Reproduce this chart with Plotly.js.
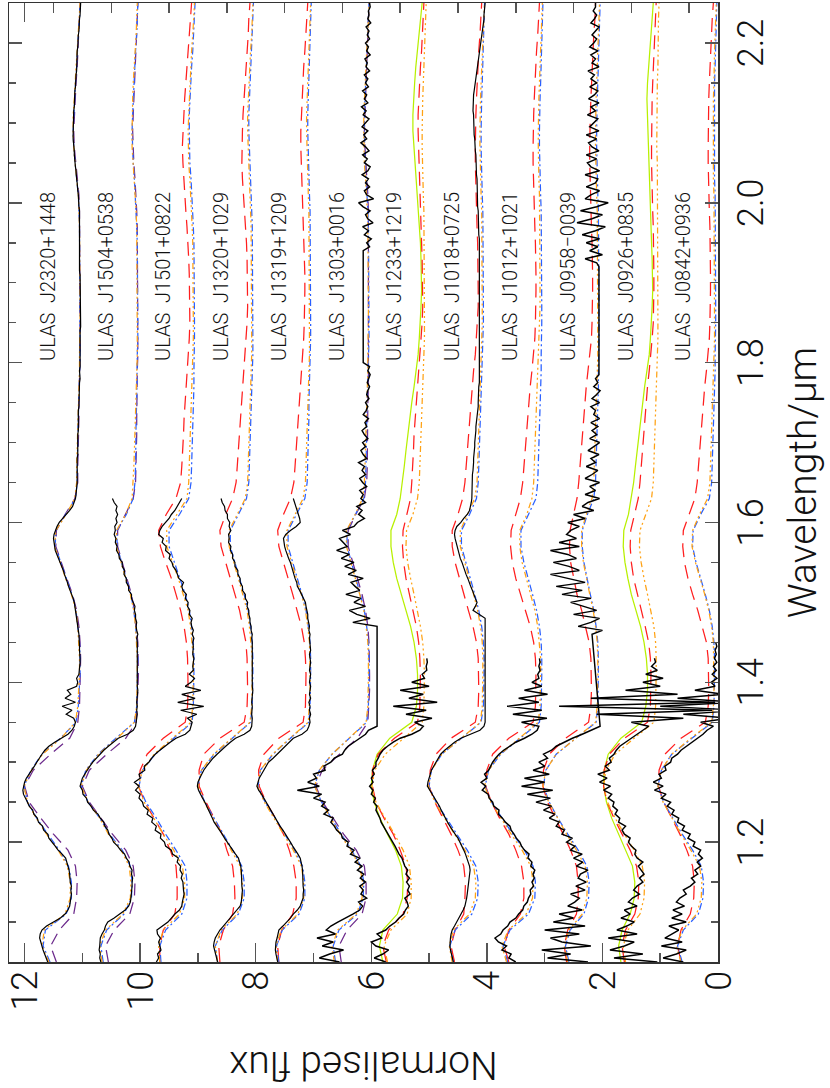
<!DOCTYPE html>
<html>
<head>
<meta charset="utf-8">
<script src="https://cdn.plot.ly/plotly-3.0.1.min.js"></script>
<style>
  html, body { margin: 0; padding: 0; background: #fff; overflow: hidden; width: 830px; height: 1088px; }
  /* the figure is laid out in landscape and turned a quarter turn anticlockwise */
  #chart { position: absolute; left: 0; top: 0; width: 1088px; height: 830px;
           transform-origin: 0 0; transform: translateY(1088px) rotate(-90deg); }
</style>
</head>
<body>
<div id="chart"></div>
<script>
// ---- wavelength grids (micron) ----
const WL_MODEL = [
  1.05,1.07,1.09,1.11,1.13,1.15,1.17,1.19,1.21,1.23,
  1.25,1.27,1.29,1.31,1.33,1.35,1.37,1.39,1.41,1.43,
  1.45,1.47,1.49,1.51,1.53,1.55,1.57,1.59,1.61,1.63,
  1.65,1.67,1.69,1.71,1.73,1.75,1.77,1.79,1.81,1.83,
  1.85,1.87,1.89,1.91,1.93,1.95,1.97,1.99,2.01,2.03,
  2.05,2.07,2.09,2.11,2.13,2.15,2.17,2.19,2.21,2.23,
  2.25];

const WL_OBS = [
  1.050,1.055,1.060,1.065,1.070,1.075,1.080,1.085,1.090,1.095,1.100,1.105,1.110,1.115,1.120,1.125,1.130,1.135,1.140,1.145,
  1.150,1.155,1.160,1.165,1.170,1.175,1.180,1.185,1.190,1.195,1.200,1.205,1.210,1.215,1.220,1.225,1.230,1.235,1.240,1.245,
  1.250,1.255,1.260,1.265,1.270,1.275,1.280,1.285,1.290,1.295,1.300,1.305,1.310,1.315,1.320,1.325,1.330,1.335,1.340,1.345,
  1.350,1.355,1.360,1.365,1.370,1.375,1.380,1.385,1.390,1.395,1.400,1.405,1.410,1.415,1.420,1.425,1.430,1.435,1.440,1.445,
  1.450,1.455,1.460,1.465,1.470,1.475,1.480,1.485,1.490,1.495,1.500,1.505,1.510,1.515,1.520,1.525,1.530,1.535,1.540,1.545,
  1.550,1.555,1.560,1.565,1.570,1.575,1.580,1.585,1.590,1.595,1.600,1.605,1.610,1.615,1.620,1.625,1.630,1.635,1.640,1.645,
  1.650,1.655,1.660,1.665,1.670,1.675,1.680,1.685,1.690,1.695,1.700,1.705,1.710,1.715,1.720,1.725,1.730,1.735,1.740,1.745,
  1.750,1.755,1.760,1.765,1.770,1.775,1.780,1.785,1.790,1.795,1.800,1.805,1.810,1.815,1.820,1.825,1.830,1.835,1.840,1.845,
  1.850,1.855,1.860,1.865,1.870,1.875,1.880,1.885,1.890,1.895,1.900,1.905,1.910,1.915,1.920,1.925,1.930,1.935,1.940,1.945,
  1.950,1.955,1.960,1.965,1.970,1.975,1.980,1.985,1.990,1.995,2.000,2.005,2.010,2.015,2.020,2.025,2.030,2.035,2.040,2.045,
  2.050,2.055,2.060,2.065,2.070,2.075,2.080,2.085,2.090,2.095,2.100,2.105,2.110,2.115,2.120,2.125,2.130,2.135,2.140,2.145,
  2.150,2.155,2.160,2.165,2.170,2.175,2.180,2.185,2.190,2.195,2.200,2.205,2.210,2.215,2.220,2.225,2.230,2.235,2.240,2.245,
  2.250];

// ---- object names and vertical offsets ----
const NAMES = ['ULAS\u00a0 J0842+0936','ULAS\u00a0 J0926+0835','ULAS\u00a0 J0958\u22120039','ULAS\u00a0 J1012+1021',
               'ULAS\u00a0 J1018+0725','ULAS\u00a0 J1233+1219','ULAS\u00a0 J1303+0016','ULAS\u00a0 J1319+1209',
               'ULAS\u00a0 J1320+1029','ULAS\u00a0 J1501+0822','ULAS\u00a0 J1504+0538','ULAS\u00a0 J2320+1448'];
const OFFSETS = [0,1,2,3,4,5,6,7,8,9,10,11];
// stroke width of each observed spectrum (the low signal-to-noise ones are drawn heavier)
const OBS_WIDTH = [1.45,1.45,1.45,1.45,1.2,1.45,1.45,1.2,1.2,1.25,1.2,1.2];

// ---- observed spectra (normalised flux, on WL_OBS; null = no data) ----
const obsJ2320 = [
  .60,.63,.66,.68,.70,.72,.74,.73,.70,.62, .50,.38,.30,.25,.22,.21,.20,.19,.20,.19,
  .21,.21,.22,.23,.25,.27,.29,.35,.42,.47, .52,.58,.60,.67,.69,.76,.78,.84,.86,.92,
  .95,.99,1.02,1.03,1.02,1.00,.97,.92,.88,.83, .79,.75,.70,.65,.58,.48,.36,.25,.18,.14,
  .12,.15,.28,.18,.35,.12,.30,.20,.26,.10, .08,.10,.06,.05,.05,.04,.04,.05,.05,.05,
  .05,.06,.06,.07,.08,.08,.09,.10,.11,.12, .14,.16,.19,.21,.24,.26,.29,.31,.33,.36,
  .39,.42,.45,.47,.48,.49,.50,.49,.47,.44, .40,.34,.27,.22,.17,.14,.12,.11,.10,.10,
  .09,.09,.09,.10,.10,.09,.09,.08,.08,.09, .09,.08,.08,.07,.07,.08,.08,.07,.07,.06,
  .06,.06,.05,.05,.05,.05,.04,.05,.05,.04, .04,.04,.04,.05,.05,.04,.04,.04,.04,.03,
  .03,.04,.04,.04,.04,.03,.03,.04,.04,.04, .04,.04,.04,.05,.05,.04,.04,.04,.04,.05,
  .05,.04,.04,.05,.05,.05,.05,.05,.05,.06, .06,.07,.07,.08,.08,.09,.10,.10,.11,.12,
  .13,.13,.14,.14,.15,.15,.16,.16,.16,.16, .15,.15,.15,.15,.14,.14,.14,.14,.13,.12,
  .12,.11,.11,.10,.10,.10,.10,.09,.09,.08, .08,.07,.07,.06,.06,.05,.05,.04,.04,.03,
  .03];

const obsJ1504 = [
  .68,.70,.69,.71,.70,.70,.69,.66,.62,.60, .56,.45,.35,.26,.20,.17,.16,.15,.14,.14,
  .14,.13,.15,.14,.18,.19,.24,.27,.34,.39, .46,.49,.54,.56,.61,.63,.69,.73,.81,.85,
  .91,.93,.99,1.00,1.04,1.02,1.00,.96,.92,.87, .82,.76,.70,.63,.55,.47,.38,.22,.12,.08,
  .07,.06,.05,.06,.05,.06,.05,.05,.04,.05, .05,.04,.05,.05,.04,.05,.05,.05,.04,.05,
  .05,.06,.04,.06,.07,.06,.08,.08,.10,.09, .12,.15,.15,.20,.20,.24,.24,.28,.27,.31,
  .31,.36,.37,.41,.40,.43,.42,.45,.43,.44, .40,.42,.39,.42,.40,.45,.48];

const obsJ1501 = [
  .72,.68,.70,.64,.66,.68,.65,.70,.71,.62, .52,.46,.40,.32,.28,.27,.26,.24,.25,.26,
  .26,.29,.27,.31,.30,.36,.34,.44,.46,.56, .58,.65,.64,.74,.72,.80,.78,.88,.86,.94,
  .96,1.02,1.00,1.08,1.02,1.10,1.00,1.02,.92,.93, .85,.80,.74,.66,.58,.48,.38,.22,.14,.12,
  .10,.18,.02,.30,-.10,.35,.05,.28,-.05,.22, .12,.06,.15,.08,.09,.08,.07,.09,.08,.08,
  .09,.07,.10,.08,.11,.12,.10,.15,.14,.18, .17,.22,.20,.26,.28,.25,.33,.36,.38,.43,
  .45,.50,.48,.56,.55,.62,.60,.68,.66,.62, .56,.50,.46,.40,.36,.32,.28];

const obsJ1320 = [
  .66,.68,.70,.72,.73,.72,.70,.66,.62,.56, .50,.44,.39,.32,.27,.25,.24,.24,.23,.24,
  .24,.24,.24,.25,.26,.28,.30,.35,.40,.45, .50,.54,.58,.63,.68,.72,.75,.78,.82,.85,
  .88,.92,.96,.99,1.01,1.00,.97,.94,.90,.85, .80,.74,.67,.60,.52,.44,.35,.20,.10,.07,
  .06,.06,.07,.06,.06,.07,.06,.06,.05,.06, .06,.05,.06,.06,.05,.06,.06,.05,.06,.06,
  .06,.07,.06,.08,.08,.10,.10,.12,.12,.15, .14,.18,.18,.23,.23,.27,.27,.31,.31,.36,
  .36,.40,.40,.44,.43,.47,.46,.47,.43,.46, .45,.49,.49,.53,.54,.58,.60];

const obsJ1319 = [
  .62,.64,.65,.66,.66,.65,.63,.62,.60,.53, .46,.40,.35,.28,.23,.20,.18,.18,.17,.18,
  .18,.18,.19,.19,.20,.21,.23,.27,.32,.36, .40,.44,.48,.53,.58,.62,.66,.70,.74,.77,
  .81,.86,.90,.95,.98,.96,.94,.90,.86,.82, .78,.70,.63,.57,.50,.43,.35,.20,.11,.08,
  .06,.07,.05,.07,.06,.08,.05,.07,.06,.05, .07,.06,.05,.07,.06,.05,.06,.07,.05,.06,
  .06,.07,.06,.08,.07,.09,.10,.10,.12,.13, .14,.17,.20,.24,.28,.29,.32,.34,.35,.37,
  .40,.43,.46,.48,.50,.51,.52,.48,.40,.30, .23,.24,.26,.28,.30,.32,.35];

const obsJ1303 = [
  .55,.90,.72,.48,.85,.66,.94,.62,.78,.70, .58,.44,.32,.20,.15,.22,.08,.18,.14,.20,
  .10,.19,.13,.24,.16,.28,.20,.36,.30,.42, .40,.50,.52,.60,.64,.70,.66,.82,.74,.86,
  .80,1.00,.86,1.28,.90,1.10,.95,1.00,.80,.82, .70,.64,.50,.46,.40,.30,.20,.10,.05,-.10,
  null,null,null,null,null,null,null,null,null,null, null,null,null,null,null,null,null,null,null,null,
  null,null,null,null,-.10,.32,.02,.25,.38,.10, .30,.18,.44,.20,.28,.35,.14,.40,.26,.46,
  .30,.52,.38,.60,.42,.48,.55,.36,.50,.30, .24,.12,.22,.16,.25,.10,.18,.14,.20,.08,
  .15,.20,.10,.16,.12,.22,.08,.14,.18,.10, .15,.06,.12,.16,.08,.11,.05,.14,.09,.06,
  .10,.04,.08,.06,.03,.07,.05,.02,.06,.03, .14,null,null,null,null,null,null,null,null,null,
  null,null,null,null,null,null,null,null,null,null, null,null,null,null,null,null,null,null,.14,.03,
  .08,.00,.12,.05,.15,-.03,.06,.10,.02,.14, .22,-.04,.08,.12,.03,.10,.05,.16,.06,.02,
  .12,.07,.15,.04,.10,.18,.08,.13,.06,.16, .10,.04,.14,.09,.17,.06,.12,.08,.15,.05,
  .10,.06,.12,.03,.09,.07,.11,.02,.08,.05, .10,.03,.07,.04,.09,.01,.06,.04,.05,.02,
  .03];

const obsJ1233 = [
  .75,.95,.80,.70,.92,1.00,.82,.90,.75,.68, .58,.52,.44,.41,.36,.38,.42,.33,.37,.34,
  .39,.34,.40,.37,.42,.45,.47,.52,.55,.59, .63,.67,.70,.75,.78,.83,.85,.89,.92,.90,
  .96,.93,1.00,.97,1.03,.97,1.00,.95,.98,.92, .92,.88,.85,.80,.72,.62,.50,.30,.16,.10,
  .25,-.05,.40,.05,.62,-.14,.35,.10,.50,.00, .30,.08,.12,.04,.05,.03,.04];

const obsJ1018 = [
  .58,.60,.61,.63,.64,.64,.63,.62,.60,.56, .52,.48,.45,.41,.38,.36,.35,.34,.33,.32,
  .31,.30,.29,.29,.30,.32,.34,.37,.40,.43, .46,.50,.55,.60,.64,.68,.72,.76,.79,.82,
  .86,.90,.95,.99,1.03,1.02,1.00,.98,.96,.92, .88,.84,.80,.73,.65,.56,.45,.28,.12,.05,
  .03,null,null,null,null,null,null,null,null,null, null,null,null,null,null,null,null,null,null,null,
  null,null,null,null,null,null,.03,.14,.24,.20, .17,.20,.22,.25,.28,.30,.33,.36,.38,.41,
  .43,.46,.48,.50,.52,.54,.55,.56,.55,.52, .45,.40,.34,.30,.28,.27,.26,.26,.26,.26,
  .26,.25,.25,.24,.23,.23,.23,.22,.22,.21, .21,.20,.20,.19,.19,.18,.17,.16,.16,.15,
  .15,.15,.15,.14,.14,.13,.13,.12,.12,null, null,null,null,null,null,null,null,null,null,null,
  null,null,null,null,null,null,null,null,null,null, null,null,null,null,null,null,null,null,null,null,
  .12,.13,.14,.14,.14,.15,.15,.15,.15,.16, .16,.16,.16,.17,.17,.17,.17,.18,.18,.18,
  .18,.19,.19,.20,.20,.21,.21,.22,.22,.23, .23,.23,.23,.24,.24,.24,.24,.23,.22,.21,
  .20,.19,.18,.17,.16,.16,.15,.14,.13,.12, .11,.10,.09,.08,.07,.06,.05,.05,.04,.04,
  .03];

const obsJ1012 = [
  .50,.62,.58,.74,.66,.80,.86,.76,.72,.64, .60,.50,.45,.38,.36,.30,.28,.24,.25,.19,
  .22,.18,.20,.17,.24,.22,.29,.27,.35,.40, .43,.49,.53,.58,.60,.68,.73,.80,.79,.88,
  .90,.96,.98,1.08,1.02,1.10,1.00,1.04,.97,.94, .90,.85,.79,.71,.60,.50,.35,.22,.13,.10,
  .40,-.04,.55,.05,.65,.10,.45,-.05,.35,.05, .22,.10,.12,.08,.10,.08,.09];

const obsJ0958 = [
  .25,.95,.55,1.05,.20,.70,.90,.40,1.00,.30, .85,.50,.75,.35,.60,.48,.40,.55,.30,.46,
  .28,.42,.38,.25,.45,.34,.50,.35,.55,.48, .62,.52,.70,.66,.80,.75,.92,.82,1.02,.88,
  1.15,.90,1.30,.86,1.40,1.00,1.35,.92,1.20,1.00, 1.10,.95,1.02,.88,.80,.66,.52,.35,.18,.04,
  null,null,null,null,null,null,null,null,null,null, null,null,null,null,null,null,null,null,null,null,
  null,null,.18,.00,.42,.20,.05,.50,.10,.32, .55,.20,.70,.35,.80,.30,.62,.90,.40,.58,
  .85,.45,.60,.90,.40,.75,.45,.62,.55,.40, .60,.30,.50,.15,.35,.25,.05,.30,.12,.22,
  .05,.30,.18,.08,.28,.12,.20,.06,.25,.14, .05,.22,.10,.18,.08,.20,.05,.15,.12,.20,
  .05,.18,.10,.04,.15,.08,.12,.06,.06,null, null,null,null,null,null,null,null,null,null,null,
  null,null,null,null,null,null,null,null,null,null, null,null,null,null,.06,.10,.30,.00,.22,.08,
  .28,.05,.35,.12,-.05,.44,.18,.00,.38,.10, -.10,.30,.20,.05,.28,.12,.08,.30,.05,.20,
  .26,.10,.28,.06,.18,.24,.10,.28,.06,.22, .15,.08,.26,.12,.20,.06,.24,.14,.08,.22,
  .10,.20,.14,.25,.06,.18,.12,.20,.08,.22, .15,.10,.18,.12,.06,.20,.14,.10,.16,.12,
  .12];

const obsJ0926 = [
  .05,.80,.30,.87,.62,.45,.90,.40,.75,.58, .45,.68,.52,.62,.40,.55,.48,.36,.46,.40,
  .30,.36,.28,.33,.38,.30,.40,.44,.42,.50, .55,.52,.62,.66,.60,.72,.70,.78,.74,.82,
  .80,.90,.84,.98,.86,1.05,.92,1.08,.88,.95, .85,.88,.80,.76,.70,.60,.50,.38,.30,.20,
  .50,-.40,1.10,-.90,1.75,-.95,1.20,-.30,.60,.00, .30,-.05,.25,.05,.15,.08,.10];

const obsJ0842 = [
  .60,.95,.72,.55,.98,.62,.92,.80,.68,.85, .55,.80,.62,.78,.58,.72,.66,.55,.60,.48,
  .40,.46,.35,.40,.30,.36,.27,.34,.30,.43, .40,.52,.48,.62,.58,.70,.68,.80,.76,.88,
  .82,.98,.90,1.10,.95,1.12,.98,1.02,.90,.92, .82,.80,.70,.64,.54,.45,.35,.26,.19,.08,
  .30,-.20,.60,-.40,1.00,-.30,.70,-.10,.40,.05, .12,.02,.10,.03,.08,.02,.06,.03,.05,.02,
  .04];

// ---- model spectra (normalised flux, on WL_MODEL) ----
const orangeJ2320 = [.58,.70,.66,.30,.21,.21,.26,.42,.62,.80, .95,1.01,.88,.69,.37,.12,.08,.06,.05,.05, .06,.08,.11,.19,.29,.39,.48,.46,.28,.13, .10,.10,.09,.08,.08,.07,.06,.05,.05,.04, .04,.04,.04,.04,.04,.05,.05,.06,.07,.10, .13,.15,.16,.16,.14,.13,.11,.09,.07,.05, .04];
const blueJ2320   = [.56,.68,.64,.28,.19,.19,.24,.40,.60,.79, .95,1.01,.89,.70,.38,.11,.07,.05,.04,.04, .05,.08,.11,.18,.28,.38,.47,.46,.29,.12, .09,.09,.08,.08,.07,.06,.05,.05,.04,.04, .04,.04,.04,.04,.04,.04,.05,.06,.07,.10, .13,.15,.16,.15,.14,.12,.10,.09,.07,.05, .04];
const purpleJ2320 = [.45,.55,.40,.15,.10,.09,.12,.25,.50,.72, .92,1.00,.85,.55,.22,.08,.05,.04,.03,.03, .04,.06,.10,.17,.27,.37,.46,.45,.30,.13, .08,.08,.07,.07,.06,.06,.05,.04,.04,.04, .04,.04,.04,.04,.04,.04,.05,.05,.06,.09, .12,.14,.15,.14,.13,.11,.09,.08,.06,.05, .04];

const orangeJ1504 = [.66,.70,.60,.30,.17,.16,.19,.33,.55,.70, .90,1.02,.93,.72,.40,.10,.06,.05,.05,.05, .06,.08,.11,.17,.25,.33,.41,.41,.25,.14, .12,.11,.10,.09,.08,.07,.06,.06,.05,.05, .05,.05,.05,.05,.05,.05,.06,.07,.09,.11, .13,.14,.14,.14,.13,.12,.10,.09,.07,.06, .05];
const blueJ1504   = [.64,.68,.58,.28,.15,.14,.17,.31,.53,.70, .90,1.02,.94,.73,.42,.10,.06,.05,.04,.04, .05,.08,.11,.16,.24,.32,.40,.40,.24,.12, .09,.08,.08,.07,.07,.06,.06,.05,.05,.04, .04,.04,.04,.04,.04,.05,.06,.07,.08,.10, .12,.13,.14,.13,.12,.11,.09,.08,.06,.05, .04];
const purpleJ1504 = [.55,.60,.45,.18,.10,.09,.12,.25,.48,.68, .88,1.00,.88,.58,.25,.07,.05,.04,.03,.03, .04,.07,.10,.15,.23,.31,.39,.39,.26,.12, .08,.07,.07,.06,.06,.06,.05,.05,.04,.04, .04,.04,.04,.04,.04,.04,.05,.06,.07,.09, .11,.12,.13,.12,.11,.10,.09,.07,.06,.05, .04];

const redJ1501    = [.66,.66,.60,.40,.36,.36,.38,.48,.60,.76, .92,1.03,1.00,.88,.60,.22,.18,.17,.17,.18, .20,.24,.30,.38,.46,.56,.65,.68,.55,.38, .30,.28,.26,.25,.24,.22,.20,.18,.16,.15, .14,.14,.14,.15,.16,.17,.19,.21,.23,.25, .26,.27,.26,.25,.23,.21,.19,.17,.15,.13, .11];
const blueJ1501   = [.64,.66,.56,.28,.19,.19,.22,.38,.56,.72, .90,1.02,.96,.74,.42,.10,.08,.07,.07,.07, .08,.11,.15,.22,.31,.40,.50,.50,.32,.16, .12,.11,.10,.10,.09,.08,.07,.07,.06,.06, .06,.06,.06,.06,.06,.07,.08,.09,.10,.12, .14,.15,.15,.15,.14,.12,.11,.09,.08,.06, .05];
const orangeJ1501 = [.66,.68,.60,.32,.23,.23,.27,.42,.60,.76, .93,1.03,.96,.76,.44,.12,.09,.08,.08,.08, .10,.13,.17,.25,.34,.44,.54,.54,.36,.19, .16,.15,.14,.13,.12,.11,.10,.09,.08,.08, .08,.08,.08,.08,.08,.09,.10,.11,.12,.14, .16,.17,.17,.16,.15,.14,.12,.11,.09,.08, .06];

const redJ1320    = [.62,.64,.56,.40,.36,.37,.40,.50,.58,.72, .86,.98,.98,.90,.62,.20,.15,.14,.14,.15, .17,.22,.28,.36,.44,.52,.60,.62,.52,.40, .34,.32,.30,.28,.26,.24,.22,.20,.18,.16, .15,.14,.14,.14,.15,.16,.18,.20,.22,.23, .24,.24,.23,.22,.20,.18,.17,.15,.13,.12, .10];
const blueJ1320   = [.66,.70,.58,.30,.20,.20,.24,.40,.56,.73, .88,1.00,.94,.72,.40,.09,.06,.05,.05,.05, .06,.09,.13,.20,.28,.36,.44,.44,.30,.16, .12,.11,.10,.10,.09,.08,.07,.06,.05,.05, .05,.05,.05,.05,.05,.05,.06,.07,.08,.10, .11,.12,.12,.12,.11,.10,.09,.07,.06,.05, .04];
const orangeJ1320 = [.66,.70,.60,.32,.23,.23,.27,.42,.58,.74, .89,1.00,.94,.73,.42,.10,.07,.06,.06,.06, .08,.11,.15,.22,.30,.38,.46,.46,.32,.18, .14,.13,.12,.11,.10,.09,.08,.08,.07,.07, .07,.07,.07,.07,.07,.07,.08,.09,.10,.12, .13,.14,.14,.14,.13,.12,.10,.09,.07,.06, .05];

const redJ1319    = [.60,.62,.55,.36,.30,.30,.34,.42,.52,.66, .82,.94,.95,.86,.60,.18,.14,.13,.13,.14, .16,.21,.28,.36,.44,.52,.60,.62,.52,.40, .34,.32,.30,.28,.26,.24,.22,.20,.18,.17, .16,.15,.15,.15,.16,.17,.18,.19,.20,.21, .22,.22,.22,.21,.20,.18,.17,.15,.13,.12, .10];
const blueJ1319   = [.60,.64,.54,.25,.15,.15,.19,.33,.50,.66, .84,.96,.92,.70,.40,.08,.06,.05,.05,.05, .06,.09,.13,.20,.28,.36,.44,.44,.30,.15, .11,.10,.09,.09,.08,.08,.07,.06,.05,.05, .05,.05,.05,.05,.05,.05,.05,.06,.07,.08, .09,.10,.10,.10,.09,.08,.07,.06,.05,.04, .04];
const orangeJ1319 = [.62,.65,.56,.27,.17,.17,.21,.35,.52,.68, .85,.97,.92,.71,.41,.09,.07,.06,.06,.06, .07,.10,.14,.21,.30,.38,.46,.46,.32,.18, .14,.13,.12,.11,.10,.09,.08,.08,.07,.07, .07,.07,.07,.07,.07,.07,.07,.08,.09,.10, .11,.12,.12,.12,.11,.10,.09,.08,.07,.06, .05];

const orangeJ1303 = [.64,.68,.58,.26,.16,.15,.20,.36,.54,.70, .86,.98,.90,.68,.38,.09,.06,.05,.05,.05, .06,.09,.13,.20,.28,.36,.43,.43,.28,.15, .12,.11,.10,.10,.09,.08,.07,.06,.06,.05, .05,.05,.05,.05,.05,.05,.06,.07,.08,.10, .12,.13,.13,.13,.12,.11,.09,.08,.06,.05, .04];
const blueJ1303   = [.62,.66,.56,.24,.14,.13,.18,.34,.52,.69, .86,.98,.90,.68,.38,.08,.05,.04,.04,.04, .05,.08,.12,.19,.27,.35,.42,.42,.27,.13, .10,.09,.09,.08,.08,.07,.06,.05,.05,.04, .04,.04,.04,.04,.04,.04,.05,.06,.07,.09, .11,.12,.12,.12,.11,.10,.08,.07,.06,.05, .04];
const purpleJ1303 = [.52,.56,.42,.16,.09,.09,.12,.26,.48,.66, .84,.96,.85,.55,.24,.06,.04,.03,.03,.03, .04,.06,.10,.16,.24,.32,.40,.40,.27,.12, .08,.07,.07,.06,.06,.06,.05,.05,.04,.04, .04,.04,.04,.04,.04,.04,.05,.05,.06,.08, .10,.11,.12,.11,.10,.09,.08,.07,.06,.05, .04];

const ygJ1233     = [.80,.86,.80,.55,.46,.45,.48,.58,.72,.85, .95,1.00,.98,.90,.68,.30,.22,.20,.20,.22, .26,.32,.40,.48,.56,.62,.66,.66,.56,.50, .46,.43,.40,.37,.33,.30,.26,.22,.19,.17, .15,.14,.13,.13,.14,.15,.17,.19,.21,.23, .24,.26,.28,.28,.27,.25,.23,.20,.17,.14, .12];
const redJ1233    = [.74,.80,.70,.45,.38,.37,.40,.50,.62,.78, .92,.98,.98,.88,.60,.20,.16,.15,.15,.16, .18,.22,.28,.34,.40,.44,.46,.45,.38,.32, .30,.28,.27,.26,.24,.22,.20,.18,.15,.13, .12,.11,.11,.11,.12,.13,.14,.15,.16,.17, .18,.19,.19,.19,.18,.17,.15,.13,.12,.10, .09];
const orangeJ1233 = [.72,.78,.66,.38,.31,.31,.34,.45,.60,.76, .92,.99,.94,.76,.44,.12,.09,.08,.08,.09, .11,.15,.20,.26,.32,.37,.40,.39,.28,.20, .17,.16,.15,.14,.13,.12,.10,.09,.08,.08, .08,.08,.08,.08,.08,.08,.08,.09,.10,.11, .12,.12,.12,.12,.11,.10,.09,.08,.07,.06, .05];

const redJ1018    = [.56,.62,.55,.40,.38,.37,.40,.50,.62,.76, .90,1.00,.98,.88,.62,.20,.15,.14,.14,.15, .18,.24,.32,.40,.48,.55,.60,.60,.50,.42, .38,.36,.34,.32,.30,.28,.26,.23,.20,.18, .16,.15,.15,.15,.15,.16,.17,.18,.19,.20, .20,.20,.20,.19,.18,.17,.16,.14,.12,.11, .09];
const blueJ1018   = [.58,.64,.55,.26,.16,.15,.19,.34,.52,.70, .88,1.00,.96,.78,.44,.10,.06,.05,.05,.05, .06,.09,.14,.21,.29,.37,.44,.44,.30,.18, .15,.14,.13,.12,.11,.10,.09,.08,.07,.07, .06,.06,.06,.06,.06,.06,.06,.07,.08,.09, .10,.10,.10,.10,.09,.08,.07,.06,.05,.04, .04];
const orangeJ1018 = [.60,.65,.58,.30,.20,.19,.23,.38,.56,.73, .90,1.01,.96,.78,.45,.11,.08,.07,.07,.07, .08,.11,.16,.23,.31,.39,.46,.46,.33,.21, .17,.16,.15,.14,.13,.12,.11,.10,.09,.08, .08,.08,.08,.08,.08,.08,.08,.09,.10,.11, .12,.12,.12,.12,.11,.10,.09,.08,.07,.05, .04];

const redJ1012    = [.62,.70,.62,.42,.36,.36,.40,.50,.62,.78, .92,1.02,1.00,.90,.62,.20,.16,.15,.15,.16, .19,.25,.33,.42,.50,.56,.59,.58,.50,.42, .38,.36,.34,.32,.30,.28,.25,.22,.19,.17, .16,.15,.15,.15,.15,.16,.17,.18,.19,.20, .20,.20,.20,.19,.18,.17,.15,.14,.12,.11, .09];
const blueJ1012   = [.64,.72,.60,.28,.17,.16,.20,.35,.55,.74, .92,1.03,.97,.76,.42,.09,.06,.05,.05,.05, .06,.09,.14,.21,.29,.36,.41,.41,.28,.15, .12,.11,.10,.10,.09,.08,.07,.06,.06,.05, .05,.05,.05,.05,.05,.05,.06,.06,.07,.08, .09,.09,.09,.09,.08,.07,.06,.06,.05,.04, .03];
const orangeJ1012 = [.66,.74,.63,.32,.21,.20,.24,.39,.58,.76, .93,1.04,.97,.77,.44,.11,.08,.07,.07,.07, .09,.12,.17,.24,.32,.39,.43,.43,.31,.22, .19,.18,.17,.16,.15,.13,.12,.11,.10,.09, .09,.08,.08,.08,.08,.08,.08,.09,.09,.10, .11,.11,.11,.11,.10,.09,.08,.07,.06,.05, .04];

const redJ0958    = [.62,.66,.60,.45,.42,.42,.45,.55,.68,.82, .95,1.03,1.02,.92,.64,.24,.20,.19,.19,.20, .23,.29,.36,.44,.50,.55,.57,.56,.50,.44, .41,.39,.37,.35,.33,.31,.28,.25,.22,.19, .18,.17,.17,.17,.17,.18,.19,.20,.21,.22, .22,.22,.22,.21,.20,.19,.18,.16,.15,.13, .12];
const blueJ0958   = [.58,.64,.56,.32,.24,.23,.27,.42,.60,.77, .92,1.02,.98,.80,.46,.11,.08,.07,.07,.07, .08,.11,.15,.21,.27,.32,.35,.35,.26,.15, .12,.11,.10,.10,.09,.08,.07,.07,.06,.06, .06,.06,.06,.06,.06,.06,.06,.07,.08,.09, .09,.10,.10,.10,.09,.08,.07,.06,.06,.05, .04];
const orangeJ0958 = [.60,.66,.58,.35,.27,.26,.30,.45,.62,.78, .93,1.03,.98,.80,.47,.12,.09,.08,.08,.08, .09,.12,.16,.22,.28,.33,.36,.36,.28,.18, .15,.14,.13,.12,.11,.10,.09,.09,.08,.08, .08,.08,.08,.08,.08,.08,.08,.09,.10,.11, .11,.12,.12,.12,.11,.10,.09,.08,.07,.06, .05];

const ygJ0926     = [.68,.72,.66,.52,.45,.44,.48,.60,.72,.84, .93,.98,.97,.90,.68,.32,.25,.22,.22,.24, .28,.34,.42,.50,.56,.61,.64,.63,.55,.50, .46,.43,.40,.37,.34,.31,.27,.23,.19,.17, .15,.14,.13,.13,.14,.15,.16,.17,.18,.19, .20,.21,.22,.23,.23,.22,.20,.18,.16,.14, .12];
const redJ0926    = [.62,.66,.60,.44,.38,.37,.41,.52,.66,.80, .92,.98,.97,.88,.62,.22,.17,.16,.16,.17, .20,.26,.33,.40,.46,.50,.52,.51,.44,.38, .35,.33,.31,.29,.27,.25,.22,.19,.16,.14, .12,.11,.11,.11,.11,.12,.12,.13,.14,.14, .15,.15,.15,.15,.14,.13,.12,.11,.10,.08, .07];
const orangeJ0926 = [.60,.64,.56,.35,.28,.27,.31,.45,.62,.78, .91,.98,.94,.78,.45,.11,.08,.07,.07,.07, .08,.11,.16,.22,.28,.33,.36,.35,.25,.15, .12,.11,.10,.09,.08,.07,.06,.05,.05,.04, .04,.04,.04,.04,.04,.04,.04,.04,.05,.05, .05,.06,.06,.06,.05,.05,.04,.04,.03,.03, .02];

const redJ0842    = [.64,.70,.64,.48,.42,.41,.44,.54,.66,.80, .94,1.03,1.02,.92,.64,.22,.17,.16,.16,.17, .20,.27,.35,.44,.52,.58,.61,.60,.50,.40, .36,.34,.32,.30,.28,.26,.23,.20,.17,.15, .14,.13,.13,.13,.13,.14,.14,.15,.16,.16, .17,.17,.17,.17,.16,.15,.14,.12,.11,.10, .08];
const blueJ0842   = [.62,.70,.60,.34,.26,.25,.29,.44,.62,.78, .94,1.04,.98,.80,.46,.10,.07,.06,.06,.06, .07,.10,.15,.22,.30,.38,.44,.43,.30,.15, .11,.10,.09,.08,.07,.07,.06,.05,.05,.04, .04,.04,.04,.04,.04,.04,.04,.05,.05,.06, .06,.07,.07,.07,.06,.06,.05,.04,.04,.03, .02];
const orangeJ0842 = [.64,.72,.62,.37,.29,.28,.32,.47,.64,.80, .95,1.04,.98,.80,.47,.11,.08,.07,.07,.07, .08,.11,.16,.23,.31,.39,.45,.44,.32,.18, .14,.13,.12,.11,.10,.09,.08,.07,.06,.06, .06,.06,.06,.06,.06,.06,.06,.07,.07,.08, .08,.09,.09,.09,.08,.07,.07,.06,.05,.04, .03];

// ---- assemble ----
const OBS = [obsJ0842, obsJ0926, obsJ0958, obsJ1012, obsJ1018, obsJ1233,
             obsJ1303, obsJ1319, obsJ1320, obsJ1501, obsJ1504, obsJ2320];
const MODELS = [
  [['red', redJ0842], ['blue', blueJ0842], ['orange', orangeJ0842]],
  [['yg', ygJ0926], ['red', redJ0926], ['orange', orangeJ0926]],
  [['red', redJ0958], ['blue', blueJ0958], ['orange', orangeJ0958]],
  [['red', redJ1012], ['blue', blueJ1012], ['orange', orangeJ1012]],
  [['red', redJ1018], ['blue', blueJ1018], ['orange', orangeJ1018]],
  [['yg', ygJ1233], ['red', redJ1233], ['orange', orangeJ1233]],
  [['purple', purpleJ1303], ['blue', blueJ1303], ['orange', orangeJ1303]],
  [['red', redJ1319], ['blue', blueJ1319], ['orange', orangeJ1319]],
  [['red', redJ1320], ['blue', blueJ1320], ['orange', orangeJ1320]],
  [['red', redJ1501], ['blue', blueJ1501], ['orange', orangeJ1501]],
  [['purple', purpleJ1504], ['blue', blueJ1504], ['orange', orangeJ1504]],
  [['purple', purpleJ2320], ['blue', blueJ2320], ['orange', orangeJ2320]]
];

const LINE = {
  red:    { color: '#ff1e1e', dash: '14px,8px' },
  blue:   { color: '#2a60ff', dash: '7px,3px,2px,3px' },
  orange: { color: '#ffa214', dash: '6px,3px,2px,3px,2px,3px,2px,3px' },
  purple: { color: '#6c2a8c', dash: '12px,7px' },
  yg:     { color: '#b8f000', dash: 'solid' }
};

const shift = (arr, off) => arr.map(v => (v === null ? null : v + off));

const traces = [];
MODELS.forEach((set, i) => {
  set.forEach(([kind, vals]) => {
    traces.push({
      x: WL_MODEL, y: shift(vals, OFFSETS[i]), mode: 'lines', type: 'scatter',
      line: { color: LINE[kind].color, dash: LINE[kind].dash, width: 1.25 },
      hoverinfo: 'skip', showlegend: false
    });
  });
});
OBS.forEach((vals, i) => {
  traces.push({
    x: WL_OBS.slice(0, vals.length), y: shift(vals, OFFSETS[i]), mode: 'lines', type: 'scatter',
    connectgaps: true, line: { color: '#000', width: OBS_WIDTH[i] },
    hoverinfo: 'skip', showlegend: false
  });
});
// carries the opposite flux axis (tick marks only)
traces.push({ x: [1.05], y: [null], yaxis: 'y2', mode: 'lines', hoverinfo: 'skip', showlegend: false });

const FONT = 'Roboto, "DejaVu Sans", sans-serif';
const HALF = [];
for (let v = 0.5; v < 12; v += 1) HALF.push(v);

const annotations = NAMES.map((name, i) => ({
  x: 1.80, y: OFFSETS[i] + 0.6, xref: 'x', yref: 'y', text: name, showarrow: false,
  xanchor: 'left', yanchor: 'middle',
  font: { family: FONT, size: 20, color: '#111', weight: 300 }
}));

const layout = {
  width: 1088, height: 830,
  margin: { l: 126, r: 3, t: 9, b: 112 },
  paper_bgcolor: '#fff', plot_bgcolor: '#fff',
  showlegend: false,
  font: { family: FONT, color: '#111', weight: 300 },
  xaxis: {
    range: [1.05, 2.25], tick0: 1.2, dtick: 0.2, tickformat: '.1f',
    ticks: 'inside', ticklen: 13, tickwidth: 1.5, tickcolor: '#555',
    minor: { tick0: 1.2, dtick: 0.05, ticks: 'inside', ticklen: 7, tickwidth: 1.5, tickcolor: '#555' },
    showline: true, linecolor: '#333', linewidth: 1.5, mirror: 'ticks',
    showgrid: false, zeroline: false,
    tickfont: { family: FONT, size: 36, color: '#111', weight: 300 },
    title: { text: 'Wavelength/\u03bcm', font: { family: FONT, size: 39, color: '#111', weight: 300 }, standoff: 18 }
  },
  yaxis: {
    range: [0, 12.27], tick0: 0, dtick: 2,
    ticks: 'inside', ticklen: 19, tickwidth: 1.5, tickcolor: '#555',
    minor: { tick0: 0, dtick: 1, ticks: 'inside', ticklen: 9, tickwidth: 1.5, tickcolor: '#555' },
    showline: true, linecolor: '#333', linewidth: 1.5, mirror: true,
    showgrid: false, zeroline: false,
    tickfont: { family: FONT, size: 36, color: '#111', weight: 300 },
    title: { text: 'Normalised flux', font: { family: FONT, size: 39, color: '#111', weight: 300 }, standoff: 30 }
  },
  yaxis2: {
    overlaying: 'y', side: 'right', range: [0, 12.27],
    tickmode: 'array', tickvals: [12], ticks: 'inside', ticklen: 19, tickwidth: 1.5, tickcolor: '#555',
    minor: { tickmode: 'array', tickvals: HALF, ticks: 'inside', ticklen: 10, tickwidth: 1.5, tickcolor: '#555' },
    showticklabels: false, showgrid: false, zeroline: false, showline: false
  },
  annotations: annotations
};

Plotly.newPlot('chart', traces, layout, { staticPlot: true, displayModeBar: false });
</script>
</body>
</html>
